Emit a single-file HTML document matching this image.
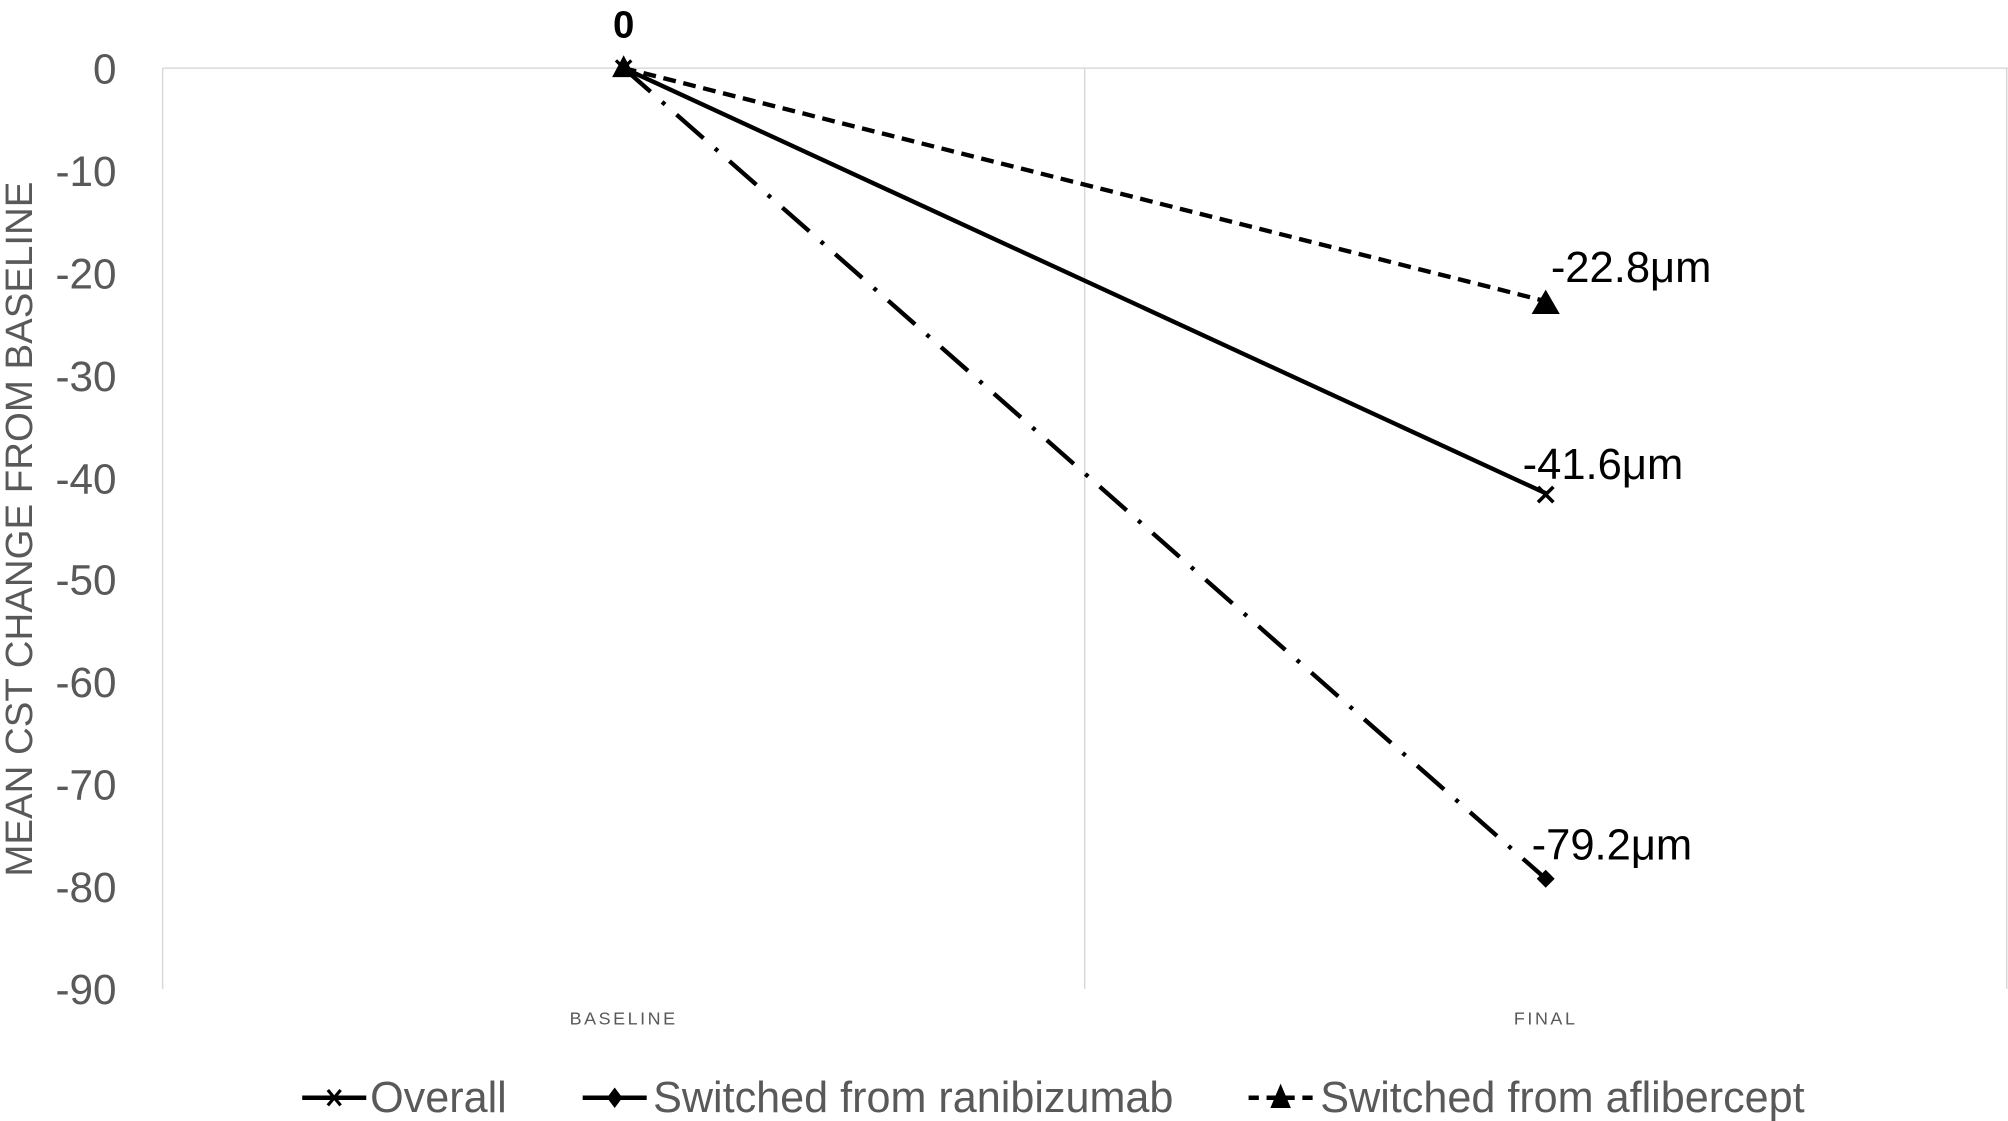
<!DOCTYPE html>
<html><head><meta charset="utf-8"><style>
html,body{margin:0;padding:0;background:#fff;width:2008px;height:1121px;overflow:hidden}
svg{display:block}
text{font-family:"Liberation Sans",sans-serif}
</style></head><body>
<svg width="2008" height="1121" viewBox="0 0 1568 875" xmlns="http://www.w3.org/2000/svg">
<rect width="1568" height="875" fill="#fff"/>
<g stroke="#d9d9d9" stroke-width="1.2" fill="none">
<line x1="127" y1="53" x2="1568" y2="53"/>
<line x1="127" y1="53" x2="127" y2="772"/>
<line x1="847" y1="53" x2="847" y2="772"/>
<line x1="1567" y1="53" x2="1567" y2="772"/>
</g>
<g fill="#595959" font-size="33" text-anchor="end">
<text x="91" y="65">0</text>
<text x="91" y="145">-10</text>
<text x="91" y="225">-20</text>
<text x="91" y="305">-30</text>
<text x="91" y="385">-40</text>
<text x="91" y="464">-50</text>
<text x="91" y="544">-60</text>
<text x="91" y="624">-70</text>
<text x="91" y="704">-80</text>
<text x="91" y="784">-90</text>
</g>
<text transform="translate(25,413) rotate(-90)" text-anchor="middle" font-size="30" fill="#595959">MEAN CST CHANGE FROM BASELINE</text>
<text x="487" y="800" text-anchor="middle" font-size="14" fill="#595959" letter-spacing="2">BASELINE</text>
<text x="1207" y="800" text-anchor="middle" font-size="14" fill="#595959" letter-spacing="2">FINAL</text>
<g stroke="#000" stroke-width="3.4" fill="none">
<line x1="487" y1="53" x2="1207" y2="686" stroke-dasharray="28,12,3,12"/>
<line x1="487" y1="53" x2="1207" y2="385"/>
<line x1="487" y1="53" x2="1207" y2="235" stroke-dasharray="10,6"/>
</g>
<polygon points="487,43 478,60 496,60" fill="#000"/>
<polygon points="1207,226 1196,245 1218,245" fill="#000"/>
<path d="M1201,380 L1213,392 M1213,380 L1201,392" stroke="#000" stroke-width="2.8"/>
<path d="M1207,679 L1214,686 L1207,693 L1200,686Z" fill="#000"/>
<path d="M481,47 L493,59 M493,47 L481,59" stroke="#000" stroke-width="2.5"/>
<g font-size="34" fill="#000">
<text x="487" y="29" text-anchor="middle" font-family="Liberation Mono,monospace" font-size="30" font-weight="bold">0</text>
<text x="1211" y="220">-22.8μm</text>
<text x="1189" y="374">-41.6μm</text>
<text x="1196" y="671">-79.2μm</text>
</g>
<g stroke="#000" stroke-width="3.5">
<line x1="236" y1="857" x2="286" y2="857"/>
<line x1="455" y1="857" x2="505" y2="857"/>
<line x1="975" y1="857" x2="1025" y2="857" stroke-dasharray="8,6"/>
</g>
<path d="M256,851 L266,863 M266,851 L256,863" stroke="#000" stroke-width="2.5"/>
<path d="M480,849 L486,857 L480,865 L474,857Z" fill="#000"/>
<polygon points="1000,846 992,865 1008,865" fill="#000"/>
<g font-size="33.7" fill="#595959">
<text x="289" y="868">Overall</text>
<text x="510" y="868">Switched from ranibizumab</text>
<text x="1031" y="868">Switched from aflibercept</text>
</g>
</svg>
</body></html>
